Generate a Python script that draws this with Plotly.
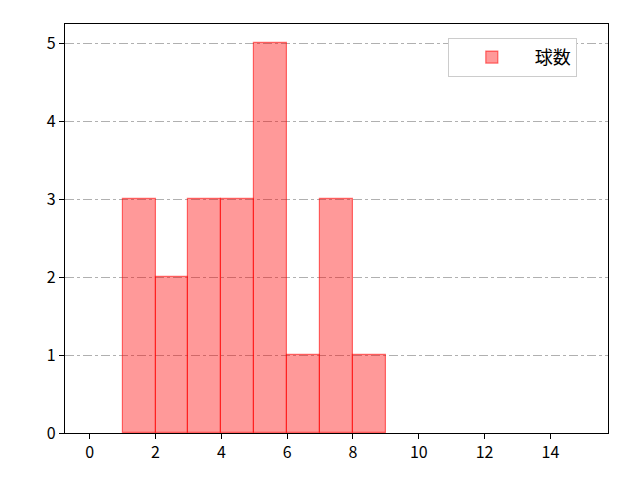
import plotly.graph_objects as go

# histogram bins (left edges) and counts
bin_left = [1, 2, 3, 4, 5, 6, 7, 8]
counts = [3, 2, 3, 3, 5, 1, 3, 1]
x_ticks = [0, 2, 4, 6, 8, 10, 12, 14]
y_ticks = [0, 1, 2, 3, 4, 5]

fig = go.Figure(go.Bar(
    x=[b + 0.5 for b in bin_left],
    y=counts,
    width=1,
    name='球数',
    marker=dict(color='rgba(255,0,0,0.4)',
                line=dict(color='rgba(255,0,0,0.55)', width=1.2)),
    showlegend=True,
))

axis_common = dict(
    showline=True, linecolor='black', linewidth=1.3, mirror=True,
    ticks='outside', ticklen=5, tickcolor='black',
    tickfont=dict(size=16, color='black'), zeroline=False,
)

fig.update_xaxes(range=[-0.75, 15.75], tickvals=x_ticks, showgrid=False, **axis_common)
fig.update_yaxes(range=[0, 5.25], tickvals=y_ticks, showgrid=True,
                 gridcolor='#b0b0b0', griddash='dashdot', gridwidth=1, **axis_common)

fig.update_layout(
    width=640, height=480,
    margin=dict(l=57, r=40, t=16, b=55),
    plot_bgcolor='white', paper_bgcolor='white',
    font=dict(family='Noto Sans CJK JP, DejaVu Sans', color='black'),
    bargap=0,
    legend=dict(x=0.705, y=0.966, xanchor='left', yanchor='top',
                bordercolor='#cccccc', borderwidth=1, bgcolor='white',
                itemwidth=76, font=dict(size=18)),
)

fig.write_html("out.html")
